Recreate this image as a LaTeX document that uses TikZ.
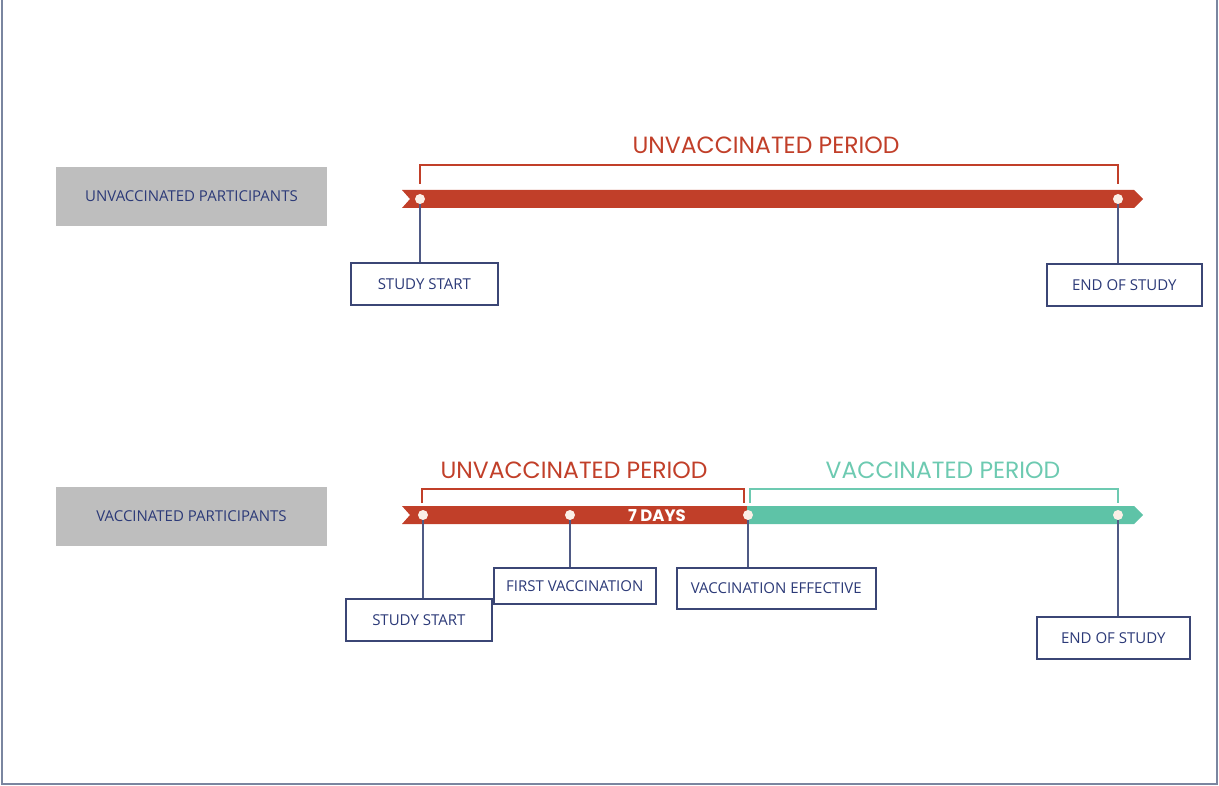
\documentclass[tikz,border=0pt]{standalone}
\usepackage{fontspec}
\setmainfont{Open Sans}
\newfontfamily\perfont{Poppins}
\begin{document}
\begin{tikzpicture}[x=1pt,y=-1pt,
  lbl/.style={draw=boxblue,line width=1.6pt,fill=white,text=txtblue,font=\fontsize{15}{17}\selectfont,inner sep=0pt,anchor=north west},
  grp/.style={fill=grayfill,text=txtblue,font=\fontsize{15}{17}\selectfont,inner sep=0pt,minimum width=271pt,minimum height=59pt},
  dot/.style={circle,fill=dotfill,inner sep=0pt,minimum size=10pt},
  conn/.style={draw=lineblue,line width=1.4pt},
  brk/.style={line width=1.5pt},
  per/.style={font=\perfont\fontsize{23.5}{26}\selectfont,inner sep=0pt}]
\definecolor{boxblue}{HTML}{3B4675}
\definecolor{txtblue}{HTML}{2C3A78}
\definecolor{lineblue}{HTML}{4F5A85}
\definecolor{grayfill}{HTML}{BEBEBE}
\definecolor{barred}{HTML}{C13F29}
\definecolor{bargreen}{HTML}{5EC3A7}
\definecolor{brkgreen}{HTML}{6DCAB1}
\definecolor{dotfill}{HTML}{FBEFE6}
\definecolor{frame}{HTML}{7A86A0}
\useasboundingbox (0,0) rectangle (1219,786);
% frame
\draw[frame,line width=2pt] (2,0) -- (2,784) -- (1217,784) -- (1217,0);
% ---------- top row ----------
\node[grp] (g1) at (191.5,196.5) {UNVACCINATED PARTICIPANTS};
\fill[barred] (402,190) -- (1134,190) -- (1143,199) -- (1134,208) -- (402,208) -- (410,199) -- cycle;
\node[dot] (a1) at (420,199) {};
\node[dot] (a2) at (1118,199) {};
\draw[barred,brk] (420,184) -- (420,165) -- (1118,165) -- (1118,184);
\node[per,text=barred] (p1) at (766,145) {UNVACCINATED PERIOD};
\node[lbl,minimum width=147pt,minimum height=42pt] (b1) at (350,262) {STUDY START};
\node[lbl,minimum width=155pt,minimum height=42pt] (b2) at (1046,263) {END OF STUDY};
\draw[conn] (a1) -- (a1 |- b1.north);
\draw[conn] (a2) -- (a2 |- b2.north);
% ---------- bottom row ----------
\node[grp] (g2) at (191.5,516) {VACCINATED PARTICIPANTS};
\fill[barred] (402,506) -- (748,506) -- (748,524) -- (402,524) -- (410,515) -- cycle;
\fill[bargreen] (747,506) -- (1134,506) -- (1143,515) -- (1134,524) -- (747,524) -- cycle;
\node[dot] (c1) at (423,515) {};
\node[dot] (c2) at (570,515) {};
\node[dot] (c3) at (748,515) {};
\node[dot] (c4) at (1118,515) {};
\node[font=\perfont\bfseries\fontsize{16.5}{18}\selectfont,text=white,inner sep=0pt] (d7) at (657,516) {7 DAYS};
\draw[barred,brk] (422,503) -- (422,489) -- (744,489) -- (744,503);
\draw[brkgreen,brk] (750,503) -- (750,489) -- (1118,489) -- (1118,503);
\node[per,text=barred] (p2) at (574,470) {UNVACCINATED PERIOD};
\node[per,text=brkgreen] (p3) at (943,470) {VACCINATED PERIOD};
\node[lbl,minimum width=146pt,minimum height=42pt] (e1) at (345,598) {STUDY START};
\node[lbl,minimum width=162pt,minimum height=36pt] (e2) at (493,567) {FIRST VACCINATION};
\node[lbl,minimum width=199pt,minimum height=41pt] (e3) at (676,567) {VACCINATION EFFECTIVE};
\node[lbl,minimum width=153pt,minimum height=42pt] (e4) at (1036,616) {END OF STUDY};
\draw[conn] (c1) -- (c1 |- e1.north);
\draw[conn] (c2) -- (c2 |- e2.north);
\draw[conn] (c3) -- (c3 |- e3.north);
\draw[conn] (c4) -- (c4 |- e4.north);
\end{tikzpicture}
\end{document}
